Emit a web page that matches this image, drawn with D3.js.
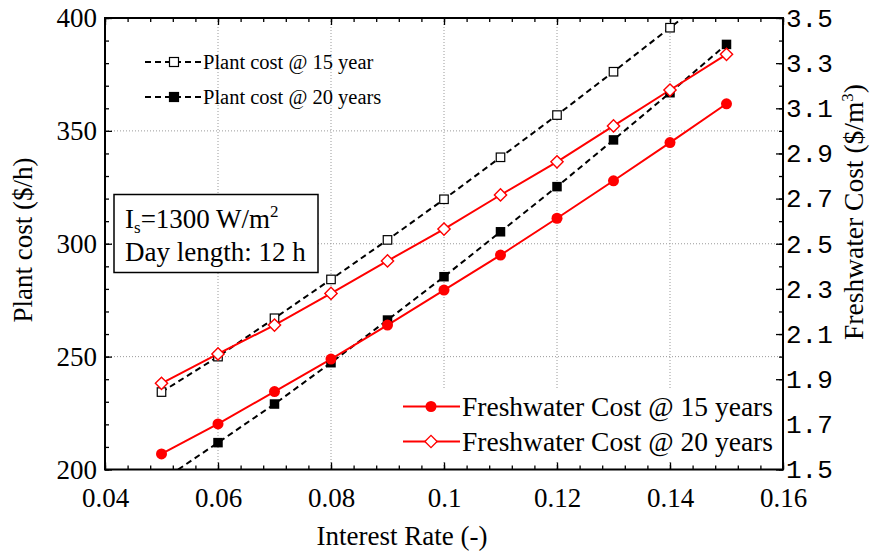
<!DOCTYPE html>
<html>
<head>
<meta charset="utf-8">
<script src="https://cdn.jsdelivr.net/npm/d3@7/dist/d3.min.js"></script>
<style>
  html, body { margin: 0; padding: 0; background: #fff; }
  svg { display: block; }
  text { font-family: "Liberation Serif", "Times New Roman", serif; fill: #000; }
</style>
</head>
<body>
<svg id="chart" width="871" height="554"></svg>
<script>
// Interest rate (x) and the four cost series
const rate = [0.05, 0.06, 0.07, 0.08, 0.09, 0.10, 0.11, 0.12, 0.13, 0.14, 0.15];
const plantCost15 = [234.3, 250.0, 267.0, 284.2, 301.7, 319.7, 338.3, 357.0, 376.2, 395.7, 415.0];
const plantCost20 = [195.0, 211.9, 229.0, 247.3, 266.2, 285.4, 305.3, 325.3, 346.0, 366.9, 388.3];
const waterCost15 = [1.569, 1.702, 1.845, 1.989, 2.140, 2.295, 2.450, 2.613, 2.779, 2.948, 3.120];
const waterCost20 = [1.882, 2.012, 2.140, 2.280, 2.424, 2.565, 2.716, 2.863, 3.022, 3.181, 3.339];

// Tick values
const xTicks = [0.04, 0.06, 0.08, 0.10, 0.12, 0.14, 0.16];
const xTickLabels = ["0.04", "0.06", "0.08", "0.1", "0.12", "0.14", "0.16"];
const leftTicks = [200, 250, 300, 350, 400];
const rightTicks = [1.5, 1.7, 1.9, 2.1, 2.3, 2.5, 2.7, 2.9, 3.1, 3.3, 3.5];

const svg = d3.select("#chart");
const L = 105, R = 783, T = 18, B = 469.5;

const x = d3.scaleLinear().domain([0.04, 0.16]).range([L, R]);
const yL = d3.scaleLinear().domain([200, 400]).range([B, T]);
const yR = d3.scaleLinear().domain([1.5, 3.5]).range([B, T]);

svg.append("defs").append("clipPath").attr("id", "plotClip")
  .append("rect").attr("x", L).attr("y", T).attr("width", R - L).attr("height", B - T);

// Dotted grid at interior major ticks
const grid = svg.append("g").attr("stroke", "#9a9a9a").attr("stroke-width", 1).attr("stroke-dasharray", "1,2");
xTicks.slice(1, -1).forEach(v => grid.append("line")
  .attr("x1", x(v)).attr("x2", x(v)).attr("y1", T).attr("y2", B));
leftTicks.slice(1, -1).forEach(v => grid.append("line")
  .attr("x1", L).attr("x2", R).attr("y1", yL(v)).attr("y2", yL(v)));

// Axes (inward ticks)
function styleAxis(g) {
  g.select(".domain").remove();
  g.selectAll(".tick line").attr("stroke", "#000").attr("stroke-width", 1.3);
}
const minorX = d3.range(0.04, 0.1601, 0.004);
const minorL = d3.range(200, 400.1, 10);
const minorR = d3.range(1.5, 3.501, 0.1);

svg.append("g").attr("transform", `translate(0,${B})`)
  .call(d3.axisBottom(x).tickValues(minorX).tickSize(-4).tickFormat("")).call(styleAxis);
svg.append("g").attr("transform", `translate(0,${T})`)
  .call(d3.axisTop(x).tickValues(minorX).tickSize(-4).tickFormat("")).call(styleAxis);
svg.append("g").attr("transform", `translate(0,${B})`)
  .call(d3.axisBottom(x).tickValues(xTicks).tickSize(-7).tickPadding(18)
    .tickFormat((d, i) => xTickLabels[i])).call(styleAxis)
  .selectAll("text").style("font-size", "27px").style("font-family", '"Liberation Serif", serif');
svg.append("g").attr("transform", `translate(0,${T})`)
  .call(d3.axisTop(x).tickValues(xTicks).tickSize(-7).tickFormat("")).call(styleAxis);

svg.append("g").attr("transform", `translate(${L},0)`)
  .call(d3.axisLeft(yL).tickValues(minorL).tickSize(-4).tickFormat("")).call(styleAxis);
svg.append("g").attr("transform", `translate(${L},0)`)
  .call(d3.axisLeft(yL).tickValues(leftTicks).tickSize(-7).tickPadding(8).tickFormat(d3.format("d")))
  .call(styleAxis)
  .selectAll("text").style("font-size", "27px").style("font-family", '"Liberation Serif", serif');

svg.append("g").attr("transform", `translate(${R},0)`)
  .call(d3.axisRight(yR).tickValues(minorR).tickSize(-4).tickFormat("")).call(styleAxis);
svg.append("g").attr("transform", `translate(${R},0)`)
  .call(d3.axisRight(yR).tickValues(rightTicks).tickSize(-7).tickPadding(3).tickFormat(d3.format(".1f")))
  .call(styleAxis)
  .selectAll("text").style("font-size", "26px").style("font-family", '"Liberation Mono", "Courier New", monospace');

// Series
const plot = svg.append("g").attr("clip-path", "url(#plotClip)");
const lineL = d3.line().x((d, i) => x(rate[i])).y(d => yL(d));
const lineR = d3.line().x((d, i) => x(rate[i])).y(d => yR(d));

plot.append("path").datum(plantCost15).attr("d", lineL)
  .attr("fill", "none").attr("stroke", "#000").attr("stroke-width", 2).attr("stroke-dasharray", "6,4");
plot.append("path").datum(plantCost20).attr("d", lineL)
  .attr("fill", "none").attr("stroke", "#000").attr("stroke-width", 2).attr("stroke-dasharray", "6,4");
plot.append("path").datum(waterCost15).attr("d", lineR)
  .attr("fill", "none").attr("stroke", "#ff0000").attr("stroke-width", 2);
plot.append("path").datum(waterCost20).attr("d", lineR)
  .attr("fill", "none").attr("stroke", "#ff0000").attr("stroke-width", 2);

const sq = 8.5;
plot.selectAll(".sq15").data(plantCost15).join("rect")
  .attr("x", (d, i) => x(rate[i]) - sq / 2).attr("y", d => yL(d) - sq / 2)
  .attr("width", sq).attr("height", sq).attr("fill", "#fff").attr("stroke", "#000").attr("stroke-width", 1.2);
plot.selectAll(".sq20").data(plantCost20).join("rect")
  .attr("x", (d, i) => x(rate[i]) - 4.75).attr("y", d => yL(d) - 4.75)
  .attr("width", 9.5).attr("height", 9.5).attr("fill", "#000");
plot.selectAll(".c15").data(waterCost15).join("circle")
  .attr("cx", (d, i) => x(rate[i])).attr("cy", d => yR(d)).attr("r", 5.5).attr("fill", "#ff0000");
// open diamond: a square symbol turned by 45 degrees
const diamond = d3.symbol().type(d3.symbolSquare).size(75);
plot.selectAll(".d20").data(waterCost20).join("path")
  .attr("d", diamond)
  .attr("transform", (d, i) => `translate(${x(rate[i])},${yR(d)}) rotate(45)`)
  .attr("fill", "#fff").attr("stroke", "#ff0000").attr("stroke-width", 1.4);

// Frame
svg.append("rect").attr("x", L).attr("y", T).attr("width", R - L).attr("height", B - T)
  .attr("fill", "none").attr("stroke", "#000").attr("stroke-width", 2);

// Axis titles
svg.append("text").attr("x", 402).attr("y", 545).attr("text-anchor", "middle")
  .style("font-size", "27px").text("Interest Rate (-)");
svg.append("text").attr("transform", "translate(32,240) rotate(-90)").attr("text-anchor", "middle")
  .style("font-size", "27px").text("Plant cost ($/h)");
const rt = svg.append("text").attr("transform", "translate(863,212) rotate(-90)").attr("text-anchor", "middle")
  .style("font-size", "27.5px");
rt.append("tspan").text("Freshwater Cost ($/m");
rt.append("tspan").attr("dy", -10).style("font-size", "17px").text("3");
rt.append("tspan").attr("dy", 10).text(")");

// Upper-left legend for plant cost
const legTop = svg.append("g");
[
  { y: 62, label: "Plant cost @ 15 year", fill: "#fff" },
  { y: 97, label: "Plant cost @ 20 years", fill: "#000" }
].forEach(e => {
  legTop.append("line").attr("x1", 145).attr("x2", 202).attr("y1", e.y).attr("y2", e.y)
    .attr("stroke", "#000").attr("stroke-width", 2).attr("stroke-dasharray", "6,4");
  legTop.append("rect").attr("x", 174 - 4.5).attr("y", e.y - 4.5).attr("width", 9).attr("height", 9)
    .attr("fill", e.fill).attr("stroke", "#000").attr("stroke-width", 1.2);
  legTop.append("text").attr("x", 203).attr("y", e.y + 7).style("font-size", "20.5px").text(e.label);
});

// Lower-right legend for freshwater cost
const legBot = svg.append("g");
legBot.append("rect").attr("x", 396).attr("y", 390).attr("width", R - 1 - 396).attr("height", 70).attr("fill", "#fff");
legBot.append("line").attr("x1", 403).attr("x2", 460).attr("y1", 406.5).attr("y2", 406.5)
  .attr("stroke", "#ff0000").attr("stroke-width", 2);
legBot.append("circle").attr("cx", 431).attr("cy", 406.5).attr("r", 5.5).attr("fill", "#ff0000");
legBot.append("text").attr("x", 462).attr("y", 416).style("font-size", "27.5px").text("Freshwater Cost @ 15 years");
legBot.append("line").attr("x1", 403).attr("x2", 460).attr("y1", 441.5).attr("y2", 441.5)
  .attr("stroke", "#ff0000").attr("stroke-width", 2);
legBot.append("path").attr("d", diamond).attr("transform", "translate(431,441.5) rotate(45)")
  .attr("fill", "#fff").attr("stroke", "#ff0000").attr("stroke-width", 1.4);
legBot.append("text").attr("x", 462).attr("y", 451).style("font-size", "27.5px").text("Freshwater Cost @ 20 years");

// Conditions box
const box = svg.append("g");
box.append("rect").attr("x", 114).attr("y", 194.5).attr("width", 204).attr("height", 78)
  .attr("fill", "#fff").attr("stroke", "#000").attr("stroke-width", 1.5);
const t1 = box.append("text").attr("x", 125).attr("y", 228).style("font-size", "27px");
t1.append("tspan").text("I");
t1.append("tspan").attr("dy", 5).style("font-size", "17px").text("s");
t1.append("tspan").attr("dy", -5).text("=1300 W/m");
t1.append("tspan").attr("dy", -11).style("font-size", "17px").text("2");
box.append("text").attr("x", 125).attr("y", 261).style("font-size", "27px").text("Day length: 12 h");
</script>
</body>
</html>
